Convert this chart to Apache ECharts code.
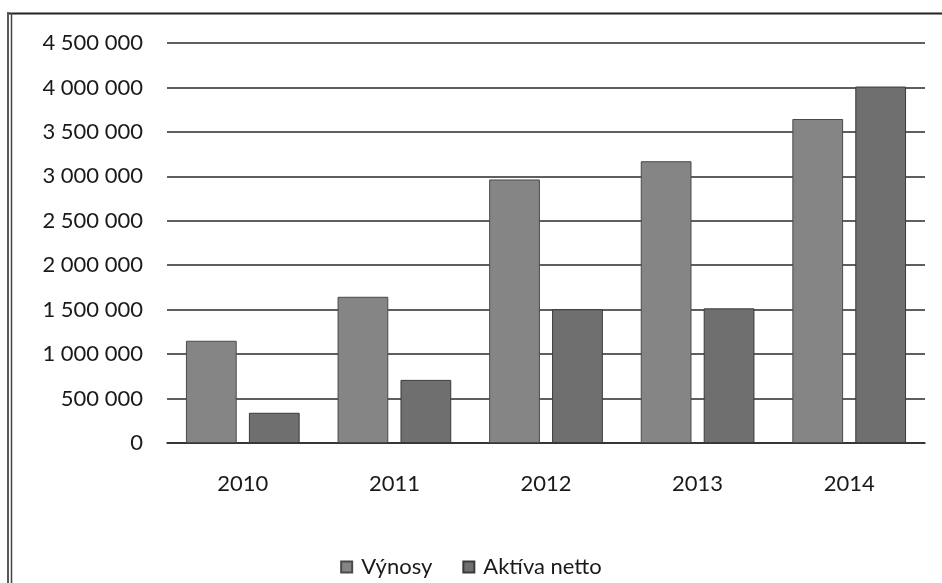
<!DOCTYPE html>
<html>
<head>
<meta charset="UTF-8">
<script src="https://cdn.jsdelivr.net/npm/echarts@6/dist/echarts.min.js"></script>
<style>
  body { margin: 0; background: #fff; }
  #chart { width: 942px; height: 583px; }
</style>
</head>
<body>
<div id="chart"></div>
<script>
// data
const years = ['2010', '2011', '2012', '2013', '2014'];
const vynosy = [1150000, 1645000, 2965000, 3170000, 3645000];
const aktiva = [340000, 710000, 1505000, 1515000, 4010000];
const yMax = 4500000;
const yStep = 500000;

const font = 'Lato, "Open Sans", sans-serif';

const chart = echarts.init(document.getElementById('chart'));

// 4500000 -> "4 500 000"
const fmt = (v) => String(v).replace(/\B(?=(\d{3})+(?!\d))/g, ' ');

chart.setOption({
  animation: false,
  backgroundColor: '#fff',
  textStyle: { fontFamily: font },
  grid: { left: 167, right: 17, top: 43, bottom: 140 },
  legend: {
    top: 551,
    left: 'center',
    icon: 'rect',
    itemWidth: 11,
    itemHeight: 11,
    itemGap: 30,
    textStyle: { fontSize: 22, color: '#1a1a1a', fontFamily: font, padding: [0, 0, 0, 4] },
    data: ['Výnosy', 'Aktíva netto']
  },
  xAxis: {
    type: 'category',
    data: years,
    axisLine: { show: true, lineStyle: { color: '#2a2a2a', width: 1.5 } },
    axisTick: { show: false },
    axisLabel: { fontSize: 22, color: '#1a1a1a', margin: 30 }
  },
  yAxis: {
    type: 'value',
    min: 0,
    max: yMax,
    interval: yStep,
    axisLine: { show: false },
    axisTick: { show: false },
    splitLine: { lineStyle: { color: '#2a2a2a', width: 1.5 } },
    axisLabel: { fontSize: 22, color: '#1a1a1a', margin: 24, formatter: fmt }
  },
  series: [
    {
      name: 'Výnosy',
      type: 'bar',
      data: vynosy,
      barGap: '24%',
      barCategoryGap: '25%',
      itemStyle: { color: '#858585', borderColor: '#4a4a4a', borderWidth: 1 }
    },
    {
      name: 'Aktíva netto',
      type: 'bar',
      data: aktiva,
      itemStyle: { color: '#6f6f6f', borderColor: '#3a3a3a', borderWidth: 1 }
    }
  ],
  // scanned frame: top rule and double rule on the left
  graphic: [
    { type: 'line', shape: { x1: 9, y1: 13.5, x2: 942, y2: 13.5 }, style: { stroke: '#222', lineWidth: 2 } },
    { type: 'line', shape: { x1: 8, y1: 12, x2: 8, y2: 583 }, style: { stroke: '#222', lineWidth: 1.5 } },
    { type: 'line', shape: { x1: 11.5, y1: 13, x2: 11.5, y2: 583 }, style: { stroke: '#444', lineWidth: 1.5 } }
  ]
});
</script>
</body>
</html>
